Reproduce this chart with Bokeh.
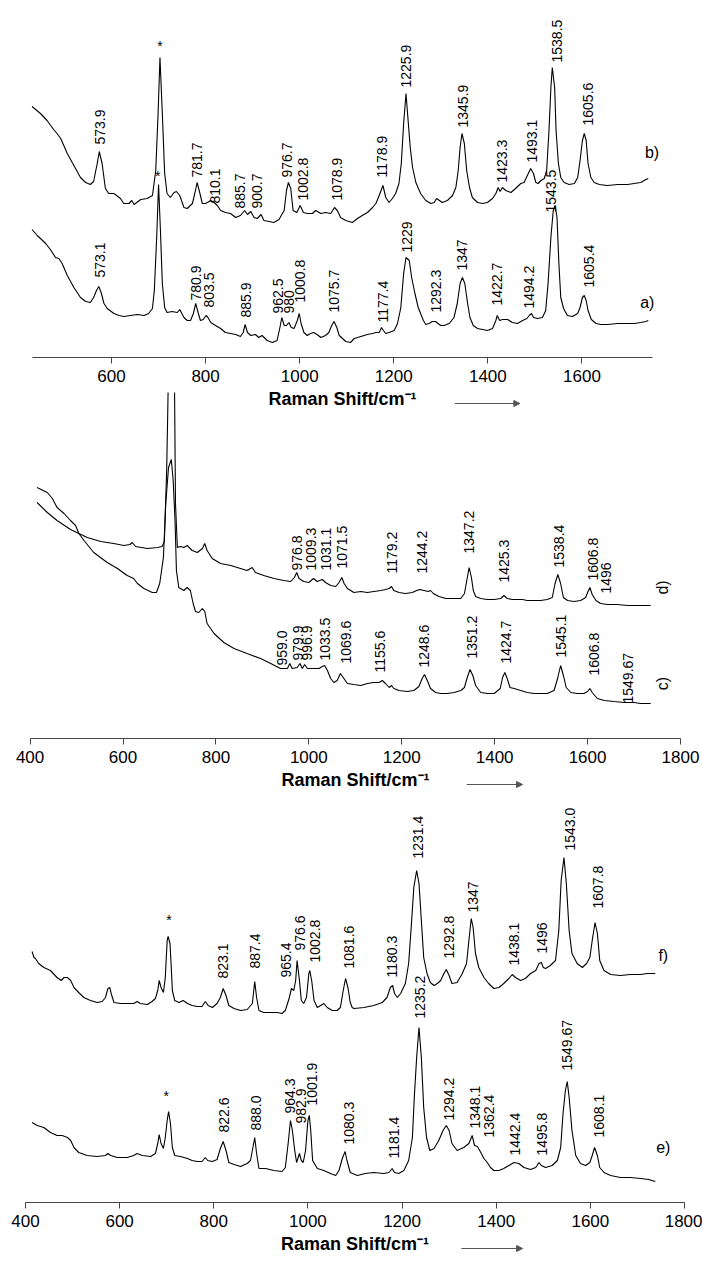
import math
from bokeh.plotting import figure
from bokeh.models import (Range1d, FixedTicker, ColumnDataSource, LabelSet, Label, Arrow,
                          NormalHead, LinearAxis)
from bokeh.embed import file_html
from bokeh.resources import INLINE
from bokeh.core.properties import value

FONT = "Liberation Sans"
AXIS_TITLE = "Raman Shift/cm\u207b\u00b9"
NAN = float("nan")

# ---------------- data: (wavenumber cm-1, intensity a.u. incl. offset) ----------------
spec_b = [(431,251),(449,244),(463,237),(477,228),(484,224),(492,219),(506,204),(520,192),(534,180),(545,175),(555,173),(562,176),(570,195),(574,206),(580,194),(587,169),(594,164),(605,164),(619,159),(626,154),(637,154),(643,157),(648,153),(662,158),(676,159),(687,162),(694,187),(699,244),(703,300),(708,244),(713,184),(718,164),(725,160),(733,165),(738,166),(745,162),(754,150),(761,149),(772,154),(777,164),(782,175),(788,164),(793,154),(800,154),(811,157),(818,155),(825,152),(832,147),(842,145),(853,144),(864,140),(874,142),(883,147),(889,143),(896,146),(903,140),(910,139),(918,143),(924,137),(935,136),(945,135),(956,138),(967,147),(972,167),(976,175),(981,169),(986,147),(994,145),(1001,152),(1008,145),(1016,144),(1027,144),(1034,147),(1045,144),(1055,145),(1066,144),(1074,150),(1080,147),(1087,140),(1098,137),(1112,135),(1123,139),(1133,142),(1144,145),(1155,150),(1162,154),(1169,162),(1177,172),(1183,160),(1190,155),(1197,159),(1204,164),(1211,174),(1216,194),(1221,234),(1226,264),(1230,240),(1235,210),(1240,190),(1247,175),(1257,164),(1268,157),(1279,154),(1286,155),(1291,159),(1297,157),(1303,155),(1314,157),(1325,162),(1332,170),(1337,187),(1341,210),(1345,224),(1350,214),(1355,187),(1361,170),(1367,160),(1378,155),(1389,154),(1399,155),(1410,159),(1417,164),(1422,170),(1426,166),(1431,170),(1438,167),(1449,165),(1459,169),(1470,174),(1477,175),(1486,184),(1491,189),(1497,184),(1502,175),(1507,174),(1513,177),(1520,179),(1525,187),(1530,227),(1534,270),(1537,290),(1542,270),(1545,227),(1550,194),(1555,180),(1562,175),(1573,173),(1584,174),(1591,180),(1596,197),(1601,217),(1605,224),(1609,217),(1613,194),(1619,180),(1626,175),(1637,173),(1654,172),(1676,173),(1697,173),(1711,174),(1725,175),(1736,178),(1741,179)]

spec_a = [(431,128),(442,122),(449,119),(460,114),(470,108),(481,100),(488,99),(495,94),(506,82),(520,70),(534,60),(545,56),(555,55),(562,60),(568,67),(573,71),(578,65),(584,54),(591,49),(605,44),(616,42),(626,41),(640,42),(655,43),(669,42),(679,44),(687,49),(691,67),(696,120),(700,173),(704,127),(708,74),(713,50),(718,45),(729,46),(740,45),(745,48),(754,40),(761,37),(768,37),(774,44),(779,54),(784,45),(789,37),(795,38),(801,42),(805,40),(811,35),(821,32),(832,29),(842,25),(853,24),(864,23),(874,21),(880,25),(884,33),(889,25),(896,22),(906,23),(913,20),(920,22),(931,17),(942,15),(952,17),(958,30),(962,40),(967,32),(972,32),(977,35),(982,30),(988,29),(995,37),(999,44),(1003,34),(1009,25),(1016,22),(1023,24),(1030,25),(1037,23),(1045,20),(1055,22),(1062,25),(1068,32),(1073,36),(1079,30),(1084,22),(1091,19),(1098,16),(1108,15),(1116,19),(1130,21),(1144,23),(1155,24),(1162,25),(1169,25),(1174,30),(1178,27),(1183,24),(1190,25),(1201,27),(1208,34),(1215,50),(1221,84),(1226,100),(1233,97),(1238,80),(1245,64),(1252,50),(1257,44),(1263,37),(1268,33),(1275,34),(1282,36),(1289,36),(1294,34),(1300,32),(1307,32),(1318,34),(1328,40),(1335,54),(1341,74),(1346,80),(1351,74),(1357,54),(1362,40),(1369,32),(1378,29),(1389,28),(1399,27),(1410,29),(1417,37),(1420,42),(1425,37),(1431,38),(1442,38),(1452,35),(1463,34),(1474,37),(1483,39),(1488,42),(1493,44),(1497,40),(1506,39),(1516,40),(1523,47),(1528,74),(1534,120),(1539,147),(1543,152),(1547,140),(1551,94),(1555,60),(1561,49),(1569,42),(1580,41),(1591,44),(1596,50),(1601,60),(1605,62),(1609,57),(1613,47),(1620,38),(1630,34),(1640,33),(1654,33),(1676,34),(1697,34),(1711,34),(1725,35),(1736,36),(1741,37)]

# the strong 700 band of d) runs off the top of its panel (trace cut there)
spec_d = [(415,236),(437,226),(458,218),(487,209),(505,205),(523,201),(552,197),(580,195),(602,193),(615,194),(620,196),(627,192),(652,190),(674,191),(684,192),(689,197),(694,268),(696,318),(697,346),(704,NAN),(711,346),(713,235),(717,191),(724,192),(731,191),(738,193),(749,188),(760,186),(771,190),(776,195),(781,188),(792,180),(810,175),(832,173),(853,170),(867,168),(878,171),(885,166),(903,163),(925,160),(946,158),(961,157),(969,161),(974,166),(979,160),(989,157),(1000,156),(1010,160),(1018,157),(1029,159),(1036,156),(1047,153),(1058,152),(1065,156),(1071,161),(1076,155),(1083,150),(1090,148),(1097,146),(1112,147),(1126,146),(1140,147),(1155,148),(1165,149),(1173,150),(1178,152),(1183,148),(1194,146),(1208,145),(1223,146),(1232,148),(1239,149),(1248,148),(1257,147),(1262,148),(1268,145),(1280,142),(1295,140),(1313,140),(1327,140),(1335,145),(1340,158),(1345,171),(1350,161),(1354,148),(1359,142),(1370,140),(1384,139),(1399,139),(1413,140),(1420,143),(1427,140),(1438,139),(1449,139),(1460,139),(1470,138),(1499,138),(1513,139),(1524,141),(1530,155),(1536,164),(1542,155),(1548,141),(1557,138),(1571,137),(1585,138),(1596,141),(1600,146),(1605,151),(1610,144),(1618,138),(1628,135),(1643,134),(1664,134),(1686,133),(1736,133)]

spec_c = [(415,251),(437,246),(448,240),(458,231),(473,225),(487,218),(498,213),(505,205),(516,198),(537,186),(566,176),(588,170),(609,163),(623,160),(631,155),(645,150),(663,146),(672,146),(679,155),(687,181),(692,235),(698,271),(704,279),(708,258),(712,218),(715,168),(720,151),(731,148),(738,151),(745,148),(751,135),(756,127),(763,126),(771,130),(776,127),(781,115),(796,105),(817,96),(839,90),(867,85),(896,80),(918,75),(939,70),(954,70),(959,75),(964,70),(975,71),(981,75),(986,70),(991,74),(997,70),(1007,70),(1022,70),(1029,72),(1034,73),(1040,68),(1047,60),(1054,56),(1061,58),(1068,65),(1074,61),(1083,55),(1097,54),(1112,53),(1126,55),(1140,56),(1151,56),(1158,58),(1165,55),(1173,51),(1178,53),(1183,50),(1194,48),(1212,47),(1226,48),(1237,52),(1244,60),(1249,64),(1255,58),(1262,50),(1273,46),(1284,45),(1298,45),(1313,46),(1327,48),(1335,51),(1341,61),(1347,69),(1353,63),(1359,53),(1370,46),(1384,45),(1399,45),(1412,50),(1417,61),(1422,66),(1427,60),(1433,51),(1442,50),(1456,48),(1470,46),(1485,45),(1499,45),(1513,45),(1528,48),(1536,61),(1542,73),(1548,63),(1554,51),(1564,46),(1578,45),(1592,45),(1600,47),(1605,50),(1610,46),(1621,40),(1636,38),(1657,37),(1679,36),(1700,36),(1714,35),(1736,35)]

spec_f = [(414,251),(418,245),(421,244),(428,239),(439,235),(453,232),(467,225),(476,222),(482,225),(489,225),(496,222),(503,215),(513,210),(524,205),(538,202),(552,200),(563,201),(570,205),(575,214),(579,215),(582,209),(588,200),(602,199),(616,199),(630,199),(637,201),(644,199),(659,198),(669,201),(676,204),(681,212),(684,222),(688,215),(693,210),(697,225),(701,262),(703,266),(707,259),(710,232),(712,212),(717,202),(726,200),(735,202),(744,199),(754,197),(765,196),(775,196),(782,201),(788,197),(797,195),(807,199),(814,205),(820,214),(826,207),(832,197),(843,194),(857,192),(871,193),(882,199),(887,221),(891,205),(896,192),(906,190),(921,190),(935,190),(945,189),(952,192),(960,204),(965,214),(970,212),(974,222),(977,242),(982,222),(986,202),(991,199),(997,205),(1002,229),(1004,232),(1008,222),(1013,202),(1020,195),(1027,197),(1034,199),(1041,195),(1052,192),(1062,192),(1069,195),(1075,212),(1080,224),(1085,215),(1090,200),(1094,195),(1098,194),(1119,195),(1140,197),(1158,200),(1168,205),(1175,215),(1180,217),(1184,209),(1190,205),(1197,209),(1207,219),(1214,239),(1220,279),(1225,315),(1231,332),(1236,319),(1241,282),(1246,245),(1253,229),(1260,220),(1268,217),(1275,219),(1282,222),(1289,229),(1294,233),(1300,227),(1306,219),(1317,220),(1328,229),(1337,239),(1342,262),(1347,284),(1351,275),(1356,249),(1363,235),(1374,225),(1384,219),(1395,214),(1406,215),(1416,219),(1427,224),(1434,228),(1441,225),(1452,222),(1462,224),(1473,229),(1484,232),(1491,239),(1496,240),(1500,235),(1505,234),(1515,237),(1526,242),(1533,272),(1538,322),(1544,345),(1549,319),(1555,272),(1561,249),(1572,239),(1583,235),(1592,239),(1599,245),(1604,262),(1610,280),(1615,269),(1620,242),(1629,232),(1643,228),(1664,227),(1685,228),(1707,228),(1721,229),(1738,229)]

spec_e = [(414,80),(425,77),(439,75),(453,70),(467,67),(478,67),(489,65),(496,62),(503,55),(513,50),(531,47),(552,46),(570,47),(575,49),(581,47),(595,45),(616,45),(630,47),(637,49),(648,47),(666,46),(676,49),(681,59),(684,68),(688,59),(693,54),(697,65),(701,82),(704,91),(708,79),(712,55),(717,47),(729,46),(744,44),(754,42),(765,41),(775,41),(782,45),(787,42),(797,41),(807,43),(814,54),(820,61),(826,52),(832,40),(843,38),(857,36),(871,39),(878,42),(882,52),(887,65),(891,49),(896,34),(910,34),(928,32),(945,31),(952,35),(958,59),(963,82),(967,72),(972,52),(976,40),(982,49),(986,42),(990,40),(995,52),(1000,82),(1003,87),(1006,72),(1010,42),(1020,34),(1034,32),(1048,29),(1059,27),(1066,32),(1073,44),(1079,51),(1083,42),(1090,30),(1105,27),(1122,29),(1140,30),(1161,29),(1172,30),(1179,34),(1184,30),(1193,29),(1204,32),(1214,42),(1222,65),(1226,105),(1231,145),(1236,175),(1241,145),(1246,95),(1252,65),(1259,52),(1268,54),(1278,62),(1287,72),(1294,77),(1300,72),(1306,59),(1317,52),(1331,55),(1342,59),(1349,67),(1354,57),(1360,56),(1365,52),(1374,44),(1381,40),(1388,35),(1395,32),(1406,32),(1416,34),(1427,37),(1438,40),(1448,39),(1459,35),(1473,33),(1484,35),(1491,40),(1496,37),(1505,35),(1519,37),(1530,42),(1537,55),(1542,89),(1547,112),(1551,121),(1555,105),(1561,72),(1569,47),(1579,39),(1590,37),(1599,40),(1604,47),(1609,55),(1615,47),(1620,35),(1629,30),(1643,27),(1664,25),(1685,25),(1707,24),(1724,23),(1738,21)]

# peak annotations: (text, wavenumber, intensity at label start)
peaks_b = [("573.9",575,213),("781.7",782,180),("810.1",821,154),("885.7",874,149),("900.7",910,149),("976.7",974,180),("1002.8",1006,157),("1078.9",1080,157),("1178.9",1174,180),("1225.9",1226,270),("1345.9",1348,230),("1423.3",1431,175),("1493.1",1493,195),("1538.5",1546,295),("1605.6",1613,232)]
peaks_a = [("573.1",575,80),("780.9",779,57),("803.5",807,50),("885.9",885,40),("962.5",954,44),("980",977,44),("1000.8",1000,55),("1075.7",1073,45),("1177.4",1178,35),("1229",1228,105),("1292.3",1289,45),("1347",1346,87),("1422.7",1420,52),("1494.2",1488,49),("1543.5",1535,145),("1605.4",1615,70)]
peaks_d = [("976.8",974,168),("1009.3",1004,168),("1031.1",1038,168),("1071.5",1072,170),("1179.2",1180,165),("1244.2",1244,165),("1347.2",1345,185),("1425.3",1420,156),("1538.4",1538,171),("1606.8",1612,158),("1496",1639,145)]
peaks_c = [("959.0",943,73),("979.9",976,78),("996.9",995,78),("1033.5",1034,78),("1069.6",1080,75),("1155.6",1154,66),("1248.6",1248,71),("1351.2",1352,80),("1424.7",1424,75),("1545.1",1542,81),("1606.8",1614,63),("1549.67",1686,35)]
peaks_f = [("823.1",819,224),("887.4",887,234),("965.4",954,225),("976.6",984,252),("1002.8",1016,240),("1081.6",1087,234),("1180.3",1179,225),("1231.4",1233,344),("1292.8",1299,244),("1347",1351,290),("1438.1",1437,237),("1496",1498,249),("1543.0",1556,352),("1607.8",1616,294)]
peaks_e = [("822.6",821,70),("888.0",889,72),("964.3",962,89),("982.9",986,79),("1001.9",1009,97),("1080.3",1088,58),("1181.4",1182,44),("1235.2",1239,184),("1294.2",1299,82),("1348.1",1356,74),("1362.4",1384,65),("1442.4",1441,47),("1495.8",1498,47),("1549.67",1551,132),("1608.1",1618,65)]

stars_1 = [(703,312),(698,182)]
stars_3 = [(705,283),(699,107)]

traces_1 = [("b)",1749,205),("a)",1739,55)]
traces_2 = [("d)",1761,151),("c)",1761,55)]
traces_3 = [("f)",1755,247),("e)",1755,55)]

ticks_1 = [600, 800, 1000, 1200, 1400, 1600]
ticks_23 = [400, 600, 800, 1000, 1200, 1400, 1600, 1800]
span_1 = (432, 1750)
span_23 = (400, 1800)

# ---------------- layout (vertical placement of the three stacked panels) ----------------
W, H = 702, 1261
BASE = {"p1": 904, "p2": 523, "default": 59}    # y of each panel's baseline axis

p = figure(width=W, height=H, title=None, x_range=Range1d(346.9, 1838.3), y_range=Range1d(0, H),
           output_backend="svg", toolbar_location=None, x_axis_location=None,
           y_axis_location=None, min_border=0, outline_line_color=None,
           background_fill_color="white", border_fill_color="white")
p.extra_x_ranges = {"p1": Range1d(364.0, 1856.3), "p2": Range1d(336.3, 1847.4)}
p.xgrid.visible = False
p.ygrid.visible = False


def add_axis(rn, span, ticks):
    ax = LinearAxis(x_range_name=rn, bounds=span, fixed_location=BASE[rn],
                    ticker=FixedTicker(ticks=ticks))
    ax.minor_tick_line_color = None
    ax.major_tick_in = 0
    ax.major_tick_out = 6
    ax.axis_line_color = "#444444"
    ax.major_tick_line_color = "#444444"
    ax.major_label_text_font = FONT
    ax.major_label_text_font_size = "17px"
    ax.major_label_text_color = "black"
    ax.major_label_standoff = 6
    ax.axis_label = AXIS_TITLE
    ax.axis_label_text_font = FONT
    ax.axis_label_text_font_style = "bold"
    ax.axis_label_text_font_size = "18px"
    ax.axis_label_text_color = "black"
    ax.axis_label_standoff = 4
    p.add_layout(ax, "below")


def add_spec(rn, pts):
    b = BASE[rn]
    p.line([q[0] for q in pts], [q[1] + b for q in pts], x_range_name=rn,
           line_color="black", line_width=1.1)


def add_peaks(rn, peaks):
    b = BASE[rn]
    src = ColumnDataSource(dict(t=[q[0] for q in peaks], x=[q[1] for q in peaks],
                                y=[q[2] + b for q in peaks]))
    p.add_layout(LabelSet(x="x", y="y", text="t", source=src, x_range_name=rn, angle=math.pi / 2,
                          text_align="left", text_baseline="middle",
                          text_font=value(FONT), text_font_size="14px", text_color="black"))


def add_marks(rn, items, size="16px", angle=0.0):
    b = BASE[rn]
    for t, x, y in items:
        p.add_layout(Label(x=x, y=y + b, text=t, angle=angle, x_range_name=rn,
                           text_align="center", text_baseline="middle",
                           text_font=FONT, text_font_size=size, text_color="black"))


def add_stars(rn, stars):
    add_marks(rn, [("*", x, y) for x, y in stars], size="14px")


def add_arrow(rn, x0, x1, dy):
    y = BASE[rn] + dy
    p.add_layout(Arrow(end=NormalHead(size=6, line_color="#555555", fill_color="#555555"),
                       x_start=x0, y_start=y, x_end=x1, y_end=y, x_range_name=rn,
                       line_color="#555555", line_width=1))


# ---- panel 1: spectra a) and b)
add_axis("p1", span_1, ticks_1)
add_spec("p1", spec_b)
add_spec("p1", spec_a)
add_peaks("p1", peaks_b)
add_peaks("p1", peaks_a)
add_stars("p1", stars_1)
add_marks("p1", traces_1)
add_arrow("p1", 1330, 1468, -46)

# ---- panel 2: spectra c) and d)
add_axis("p2", span_23, ticks_23)
add_spec("p2", spec_d)
add_spec("p2", spec_c)
add_peaks("p2", peaks_d)
add_peaks("p2", peaks_c)
add_marks("p2", traces_2, angle=math.pi / 2)
add_arrow("p2", 1340, 1460, -46)

# ---- panel 3: spectra e) and f)
add_axis("default", span_23, ticks_23)
add_spec("default", spec_f)
add_spec("default", spec_e)
add_peaks("default", peaks_f)
add_peaks("default", peaks_e)
add_stars("default", stars_3)
add_marks("default", traces_3)
add_arrow("default", 1326, 1456, -46)

open("out.html", "w").write(file_html(p, INLINE))
